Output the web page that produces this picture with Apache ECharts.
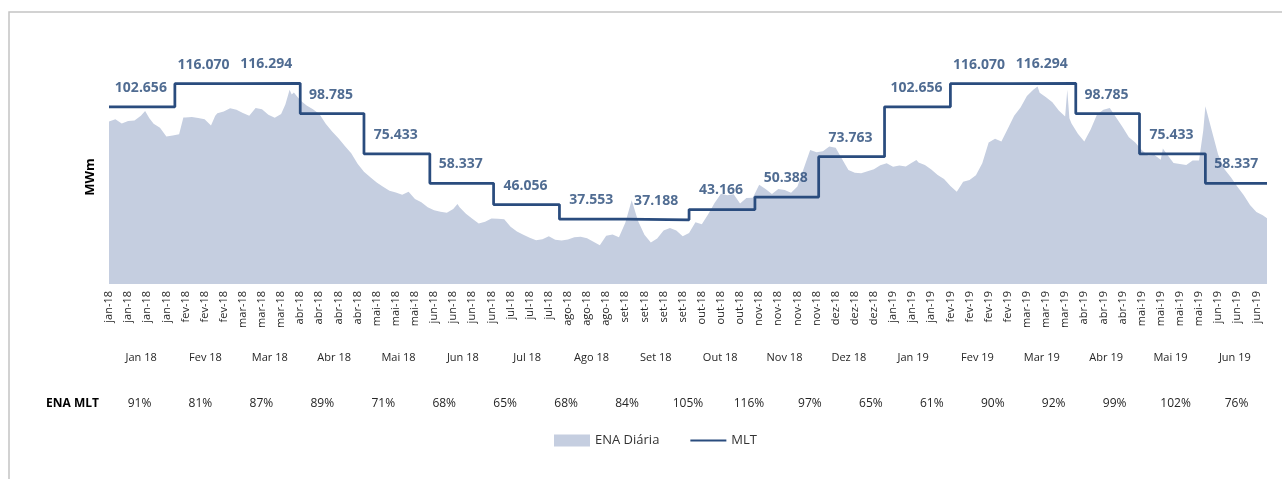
<!DOCTYPE html>
<html>
<head>
<meta charset="utf-8">
<title>ENA Diária x MLT</title>
<script src="https://cdn.jsdelivr.net/npm/echarts@6/dist/echarts.min.js"></script>
<style>
  html, body { margin: 0; padding: 0; background: #fff; }
  #chart { width: 1282px; height: 479px; }
</style>
</head>
<body>
<div id="chart"></div>
<script>
// meses do período (jan/18 a jun/19)
var meses = ['Jan 18', 'Fev 18', 'Mar 18', 'Abr 18', 'Mai 18', 'Jun 18', 'Jul 18', 'Ago 18', 'Set 18',
             'Out 18', 'Nov 18', 'Dez 18', 'Jan 19', 'Fev 19', 'Mar 19', 'Abr 19', 'Mai 19', 'Jun 19'];
var abrevMes = ['jan', 'fev', 'mar', 'abr', 'mai', 'jun', 'jul', 'ago', 'set', 'out', 'nov', 'dez'];

// MLT mensal (MWm)
var mltMensal = [102656, 116070, 116294, 98785, 75433, 58337, 46056, 37553, 37188,
                 43166, 50388, 73763, 102656, 116070, 116294, 98785, 75433, 58337];

// linha "ENA MLT"
var enaMltPct = ['91%', '81%', '87%', '89%', '71%', '68%', '65%', '68%', '84%', '105%',
                 '116%', '97%', '65%', '61%', '90%', '92%', '99%', '102%', '76%'];

// ENA diária (MWm) - [dia desde 01/01/2018, valor]
var enaDiaria = [
  [0, 94100], [3, 95500], [6, 93000], [9, 94500], [12, 94700], [15, 97500], [17, 100300], [19, 96000],
  [21, 92800], [24, 90500], [27, 85500], [30, 86000], [33, 86800], [35, 96500], [36, 96500], [39, 96800],
  [42, 96200], [45, 95500], [48, 91800], [50, 97500], [51, 99000], [54, 99900], [57, 101900], [60, 101000],
  [63, 99100], [66, 97500], [69, 102000], [72, 101200], [75, 98100], [78, 96300], [81, 98500], [83, 104000],
  [85, 112500], [86, 109800], [87, 111000], [90, 106500], [93, 103400], [96, 101300], [99, 98500], [102, 92900],
  [105, 88300], [108, 84500], [111, 80000], [114, 75800], [117, 69700], [120, 65000], [123, 61900], [126, 58800],
  [129, 56300], [132, 54000], [135, 53000], [138, 51700], [141, 53500], [144, 49300], [147, 47300], [150, 44500],
  [153, 42800], [156, 41900], [159, 41300], [162, 43500], [164, 46400], [165, 44500], [168, 40700], [171, 37800],
  [174, 35000], [177, 36000], [180, 38000], [183, 37800], [186, 37500], [189, 33200], [192, 30400], [195, 28600],
  [198, 26800], [201, 25400], [204, 26000], [207, 27600], [210, 25600], [213, 25200], [216, 25800], [219, 27100],
  [222, 27400], [225, 26500], [228, 24500], [231, 22500], [234, 28000], [237, 28700], [240, 27100], [243, 35500],
  [246, 48500], [249, 36500], [252, 28500], [255, 24000], [258, 26300], [261, 31000], [264, 32500], [267, 31000],
  [270, 27700], [273, 29500], [276, 35800], [279, 34600], [282, 40400], [285, 47000], [288, 52300], [291, 51400],
  [294, 52000], [297, 46700], [300, 49800], [303, 50000], [306, 57500], [309, 55000], [312, 52100], [315, 55000],
  [318, 54400], [321, 52900], [324, 56500], [327, 67000], [330, 77700], [333, 76300], [336, 76900], [339, 79700],
  [342, 79000], [345, 72500], [348, 66000], [351, 64500], [354, 64200], [357, 65300], [360, 66500], [363, 68800],
  [366, 69900], [369, 68000], [372, 68600], [375, 68100], [378, 70400], [380, 71900], [381, 70400], [384, 68900],
  [387, 66400], [390, 63200], [393, 60800], [396, 56800], [399, 53500], [402, 59300], [405, 60300], [408, 63000],
  [411, 70000], [414, 82000], [417, 84200], [420, 82600], [423, 90000], [426, 97500], [429, 102300], [432, 108900],
  [435, 112600], [437, 114400], [438, 110800], [441, 108200], [444, 105300], [447, 100600], [450, 97000], [451, 112500],
  [452, 96000], [453, 93000], [456, 87000], [459, 82500], [462, 89500], [465, 98200], [468, 100900], [471, 102000],
  [474, 96500], [477, 91000], [480, 85000], [483, 82000], [486, 77600], [489, 74500], [492, 74800], [495, 72000],
  [496, 78500], [498, 75000], [501, 70100], [504, 69600], [507, 69000], [510, 71500], [513, 71500], [515, 89000],
  [516, 103000], [519, 89000], [522, 75000], [525, 66500], [528, 61800], [531, 56500], [534, 51500], [537, 45800],
  [540, 41700], [543, 39900], [545, 38100]
];

var INICIO = Date.UTC(2018, 0, 1), DIA = 86400000, ULTIMO_DIA = 545;

function diaDe(ano, mes) {
  return Math.round((Date.UTC(ano, mes, 1) - INICIO) / DIA);
}
function rotuloDia(v) {
  var d = new Date(INICIO + v * DIA);
  return abrevMes[d.getUTCMonth()] + '-' + String(d.getUTCFullYear()).slice(2);
}
function milhar(v) {
  return String(v).replace(/\B(?=(\d{3})+(?!\d))/g, '.');
}

// degraus da MLT (inicio de cada mes) e ponto do rotulo no meio do mes
var mltLinha = [], mltRotulos = [];
for (var i = 0; i < mltMensal.length; i++) {
  var ini = diaDe(2018, i), fim = Math.min(diaDe(2018, i + 1), ULTIMO_DIA + 1);
  mltLinha.push([ini, mltMensal[i]]);
  mltRotulos.push([(ini + fim - 1) / 2, mltMensal[i]]);
}
mltLinha.push([ULTIMO_DIA, mltMensal[mltMensal.length - 1]]);

var corArea = '#C5CEE0', corMlt = '#2A4C7E', fonte = 'Open Sans';

var chart = echarts.init(document.getElementById('chart'));
chart.setOption({
  animation: false,
  textStyle: { fontFamily: fonte },
  graphic: [{
    type: 'rect', silent: true,
    shape: { x: 9, y: 12, width: 1400, height: 600 },
    style: { fill: 'none', stroke: '#C4C4C4', lineWidth: 1.5 }
  }],
  grid: { left: 109, right: 15, top: 70, bottom: 195 },
  legend: {
    data: [
      { name: 'ENA Diária', icon: 'rect' },
      { name: 'MLT', itemStyle: { opacity: 0 } }
    ],
    left: 549, top: 429,
    itemWidth: 36, itemHeight: 12, itemGap: 30,
    textStyle: { fontSize: 13, color: '#333', fontFamily: fonte }
  },
  xAxis: [{
    type: 'value', min: 0, max: ULTIMO_DIA, interval: 9,
    axisLine: { show: false }, axisTick: { show: false }, splitLine: { show: false },
    axisLabel: { rotate: 90, fontSize: 11, color: '#262626', margin: 7,
                 showMaxLabel: false, formatter: rotuloDia }
  }, {
    type: 'category', data: meses, position: 'bottom', offset: 74,
    axisLine: { show: false }, axisTick: { show: false },
    axisLabel: { fontSize: 11, color: '#262626', margin: 0, verticalAlign: 'middle', interval: 0 }
  }, {
    type: 'category', data: enaMltPct, position: 'bottom', offset: 120,
    name: 'ENA MLT', nameLocation: 'start', nameGap: 10,
    nameTextStyle: { fontWeight: 'bold', fontSize: 12, color: '#000', verticalAlign: 'middle' },
    axisLine: { show: false }, axisTick: { show: false },
    axisLabel: { fontSize: 12, color: '#262626', margin: 0, verticalAlign: 'middle', interval: 0 }
  }],
  yAxis: {
    type: 'value', min: 0, max: 124000,
    axisLabel: { show: false }, axisLine: { show: false }, axisTick: { show: false },
    splitLine: { show: false },
    name: 'MWm', nameLocation: 'middle', nameGap: 12,
    nameTextStyle: { fontWeight: 'bold', fontSize: 13, color: '#000' }
  },
  series: [{
    name: 'ENA Diária', type: 'line', data: enaDiaria,
    symbol: 'none', lineStyle: { width: 0 },
    itemStyle: { color: corArea },
    areaStyle: { color: corArea, opacity: 1 },
    z: 1
  }, {
    name: 'MLT', type: 'line', step: 'end', data: mltLinha,
    symbol: 'none',
    lineStyle: { color: corMlt, width: 2.75 },
    itemStyle: { color: corMlt },
    z: 3
  }, {
    name: 'rotulos', type: 'scatter', data: mltRotulos,
    symbolSize: 0, silent: true,
    label: {
      show: true, position: 'top', distance: 12,
      fontSize: 14, fontWeight: 'bold', color: '#244777', fontFamily: fonte,
      formatter: function (p) { return milhar(p.value[1]); }
    },
    z: 4
  }]
});
</script>
</body>
</html>
